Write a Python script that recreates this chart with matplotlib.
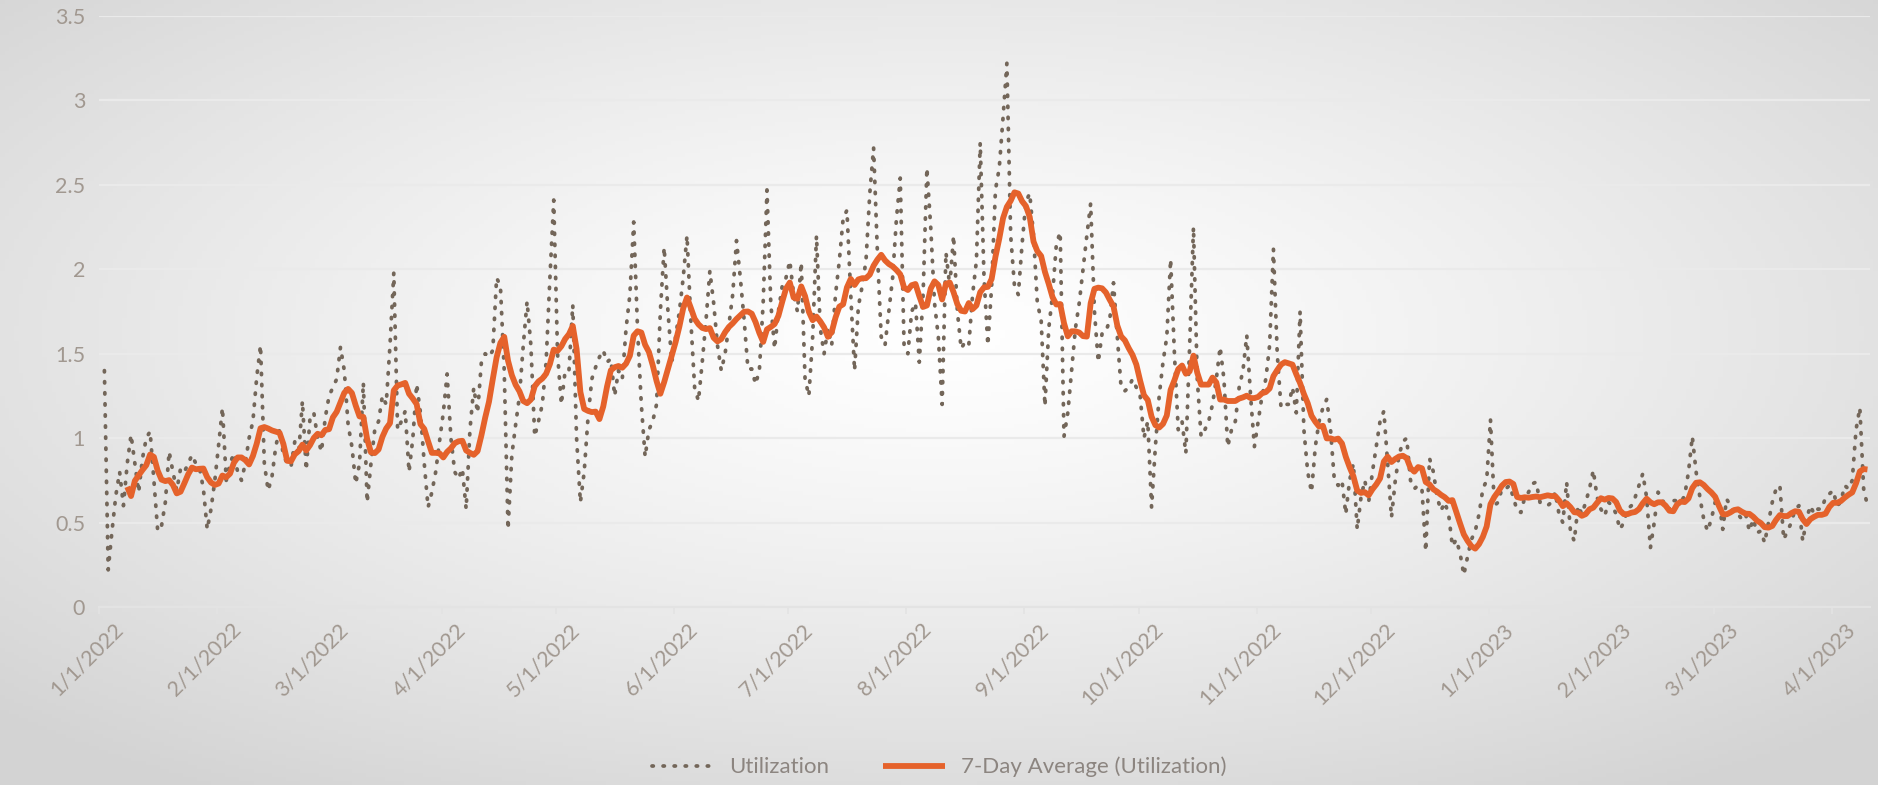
import numpy as np
import pandas as pd
import matplotlib
matplotlib.use("Agg")
import matplotlib.pyplot as plt
import matplotlib.transforms as mtransforms

# daily utilization (first day is 1/2/2022)
jan22 = [1.40, 0.22, 0.45, 0.66, 0.80, 0.60, 0.85, 1.02, 0.85, 0.68, 0.88, 1.00, 1.04, 0.75, 0.45,
         0.48, 0.62, 0.92, 0.80, 0.69, 0.82, 0.80, 0.85, 0.90, 0.85, 0.82, 0.70, 0.46, 0.58, 0.75]
feb22 = [0.96, 1.18, 0.75, 0.85, 0.91, 0.80, 0.75, 0.85, 1.00, 1.10, 1.36, 1.55, 0.85, 0.69,
         0.77, 0.95, 1.05, 0.90, 0.85, 0.83, 0.98, 0.90, 1.22, 0.81, 1.12, 1.15, 1.00, 0.92]
mar22 = [1.12, 1.25, 1.30, 1.35, 1.54, 1.40, 1.08, 0.95, 0.73, 0.85, 1.33, 0.62, 0.85, 1.05, 1.10,
         1.25, 1.20, 1.55, 1.98, 1.05, 1.10, 1.16, 0.80, 1.00, 1.32, 1.15, 0.85, 0.59, 0.68, 0.80, 0.98]
apr22 = [1.15, 1.38, 1.00, 0.80, 0.76, 0.82, 0.58, 1.05, 1.30, 1.15, 1.45, 1.50, 1.48, 1.52, 1.95,
         1.90, 1.40, 0.46, 0.90, 1.08, 1.25, 1.55, 1.81, 1.55, 1.01, 1.10, 1.20, 1.45, 1.95, 2.41]
may22 = [1.50, 1.20, 1.40, 1.40, 1.79, 1.00, 0.62, 0.80, 1.12, 1.35, 1.42, 1.48, 1.52, 1.45, 1.47,
         1.25, 1.40, 1.35, 1.65, 1.85, 2.28, 1.65, 1.20, 0.89, 1.05, 1.10, 1.20, 1.75, 2.13, 1.75, 1.45]
jun22 = [1.60, 1.75, 1.95, 2.20, 1.70, 1.30, 1.22, 1.45, 1.70, 1.99, 1.80, 1.55, 1.40, 1.50, 1.67,
         1.85, 2.17, 1.95, 1.70, 1.41, 1.41, 1.32, 1.40, 1.80, 2.47, 1.80, 1.53, 1.75, 1.90, 1.95]
jul22 = [2.05, 1.85, 1.75, 2.04, 1.35, 1.25, 1.60, 2.20, 1.65, 1.50, 1.65, 1.55, 1.85, 2.05, 2.30,
         2.35, 1.85, 1.40, 1.78, 1.90, 2.05, 2.45, 2.72, 2.10, 1.60, 1.55, 1.75, 1.95, 2.30, 2.54, 1.55]
aug22 = [1.50, 1.75, 1.80, 1.45, 1.85, 2.60, 2.25, 1.80, 1.60, 1.20, 2.10, 1.90, 2.20, 1.75, 1.53,
         1.57, 1.55, 1.85, 2.05, 2.75, 1.95, 1.55, 1.90, 2.47, 2.60, 2.90, 3.22, 2.20, 1.90, 1.85, 2.15]
sep22 = [2.40, 2.45, 2.20, 1.80, 1.70, 1.19, 1.65, 1.85, 2.15, 2.22, 1.01, 1.15, 1.40, 1.65, 1.80,
         2.00, 2.20, 2.39, 1.75, 1.45, 1.62, 1.63, 1.70, 1.92, 1.60, 1.30, 1.28, 1.30, 1.35, 1.30]
oct22 = [1.25, 1.00, 1.10, 0.59, 0.95, 1.25, 1.45, 1.60, 2.06, 1.50, 1.05, 1.10, 0.91, 1.55, 2.25,
         1.35, 1.01, 1.05, 1.10, 1.20, 1.35, 1.54, 1.35, 0.95, 1.05, 1.10, 1.30, 1.40, 1.61, 1.25, 0.95]
nov22 = [1.10, 1.25, 1.35, 1.55, 2.12, 1.50, 1.18, 1.20, 1.20, 1.30, 1.15, 1.75, 1.05, 0.80, 0.68,
         0.95, 1.10, 1.18, 1.23, 1.05, 0.75, 0.72, 0.75, 0.55, 0.75, 0.85, 0.46, 0.65, 0.75, 0.62]
dec22 = [0.80, 0.95, 1.10, 1.16, 0.85, 0.53, 0.75, 0.90, 0.98, 1.00, 0.75, 0.70, 0.72, 0.70, 0.33,
         0.88, 0.80, 0.65, 0.57, 0.62, 0.55, 0.36, 0.40, 0.32, 0.19, 0.30, 0.40, 0.45, 0.55, 0.70, 0.75]
jan23 = [1.11, 0.60, 0.62, 0.70, 0.70, 0.72, 0.65, 0.57, 0.56, 0.65, 0.68, 0.73, 0.74, 0.62, 0.61,
         0.60, 0.62, 0.68, 0.55, 0.50, 0.74, 0.45, 0.39, 0.60, 0.55, 0.62, 0.70, 0.81, 0.65, 0.58, 0.54]
feb23 = [0.62, 0.60, 0.55, 0.46, 0.50, 0.58, 0.60, 0.65, 0.72, 0.79, 0.65, 0.35, 0.50, 0.68,
         0.65, 0.58, 0.58, 0.63, 0.63, 0.62, 0.66, 0.80, 1.01, 0.80, 0.65, 0.52, 0.45, 0.52]
mar23 = [0.62, 0.63, 0.46, 0.64, 0.60, 0.55, 0.55, 0.52, 0.55, 0.45, 0.52, 0.44, 0.45, 0.38, 0.50,
         0.62, 0.70, 0.72, 0.40, 0.45, 0.50, 0.58, 0.60, 0.39, 0.52, 0.60, 0.55, 0.58, 0.58, 0.65, 0.67]
apr23 = [0.69, 0.60, 0.62, 0.72, 0.70, 0.75, 1.05, 1.18, 0.70, 0.60]

first_day = "2022-01-02"
y_ticks = [0, 0.5, 1, 1.5, 2, 2.5, 3, 3.5]
y_labels = ["0", "0.5", "1", "1.5", "2", "2.5", "3", "3.5"]
legend_labels = ["Utilization", "7-Day Average (Utilization)"]

DOT_COLOR = "#736659"
AVG_COLOR = "#E5622B"
LABEL_COLOR = "#A19890"
GRID_COLOR = "#EAEAEA"

plt.rcParams["font.family"] = ["Lato", "DejaVu Sans"]

util = pd.Series(jan22 + feb22 + mar22 + apr22 + may22 + jun22 + jul22 + aug22
                 + sep22 + oct22 + nov22 + dec22 + jan23 + feb23 + mar23 + apr23)
dates = pd.date_range(first_day, periods=len(util), freq="D") + pd.Timedelta(hours=10)
avg7 = util.rolling(7).mean()

fig = plt.figure(figsize=(18.78, 7.85), dpi=100)

# radial gradient backdrop: white centre fading to light grey at the edges
bg = fig.add_axes([0, 0, 1, 1], zorder=-1)
gx, gy = np.meshgrid(np.linspace(-1, 1, 400), np.linspace(-1, 1, 200))
gy = gy + 0.15
r = np.clip(np.sqrt(gx ** 2 + gy ** 2) / np.sqrt(2), 0, 1)
shade = (255 - 44 * r ** 1.25) / 255
bg.imshow(np.dstack([shade, shade, shade]), aspect="auto", extent=[0, 1, 0, 1])
bg.axis("off")

ax = fig.add_axes([99 / 1878, 1 - 607 / 785, (1870 - 99) / 1878, (607 - 16) / 785])
ax.set_facecolor("none")

ax.plot(dates, util, color=DOT_COLOR, linewidth=2.7, linestyle=(0, (0.35, 2.6)),
        dash_capstyle="round", solid_capstyle="round", label=legend_labels[0], zorder=3)
ax.plot(dates, avg7, color=AVG_COLOR, linewidth=4.2, solid_joinstyle="round",
        solid_capstyle="butt", label=legend_labels[1], zorder=4)

ax.set_ylim(0, 3.5)
ax.set_yticks(y_ticks)
ax.set_yticklabels(y_labels)
ax.set_xlim(pd.Timestamp("2022-01-01"), pd.Timestamp("2023-04-11 02:00"))

month_ticks = pd.date_range("2022-01-01", "2023-04-01", freq="MS")
ax.set_xticks(month_ticks)
ax.set_xticklabels([f"{d.month}/{d.day}/{d.year}" for d in month_ticks],
                   rotation=45, ha="right", va="top", rotation_mode="anchor")

ax.grid(axis="y", color=GRID_COLOR, linewidth=1.6)
ax.set_axisbelow(True)
for side in ["top", "right", "left"]:
    ax.spines[side].set_visible(False)
ax.spines["bottom"].set_color("#E3E3E3")
ax.spines["bottom"].set_linewidth(1.6)
ax.tick_params(axis="y", length=0, pad=10, labelsize=15.5, labelcolor=LABEL_COLOR)
ax.tick_params(axis="x", length=5, width=1.2, color="#E3E3E3", pad=4,
               labelsize=15.5, labelcolor=LABEL_COLOR)

offset = mtransforms.ScaledTranslation(10 / 72, 0, fig.dpi_scale_trans)
for lbl in ax.get_xticklabels():
    lbl.set_transform(lbl.get_transform() + offset)

leg = fig.legend(loc="center", bbox_to_anchor=(0.5, 1 - 767 / 785), ncol=2, frameon=False,
                 fontsize=16, handlelength=2.8, columnspacing=2.4, handletextpad=0.7)
for t in leg.get_texts():
    t.set_color("#8C8580")

fig.savefig("out.png", dpi=100)
